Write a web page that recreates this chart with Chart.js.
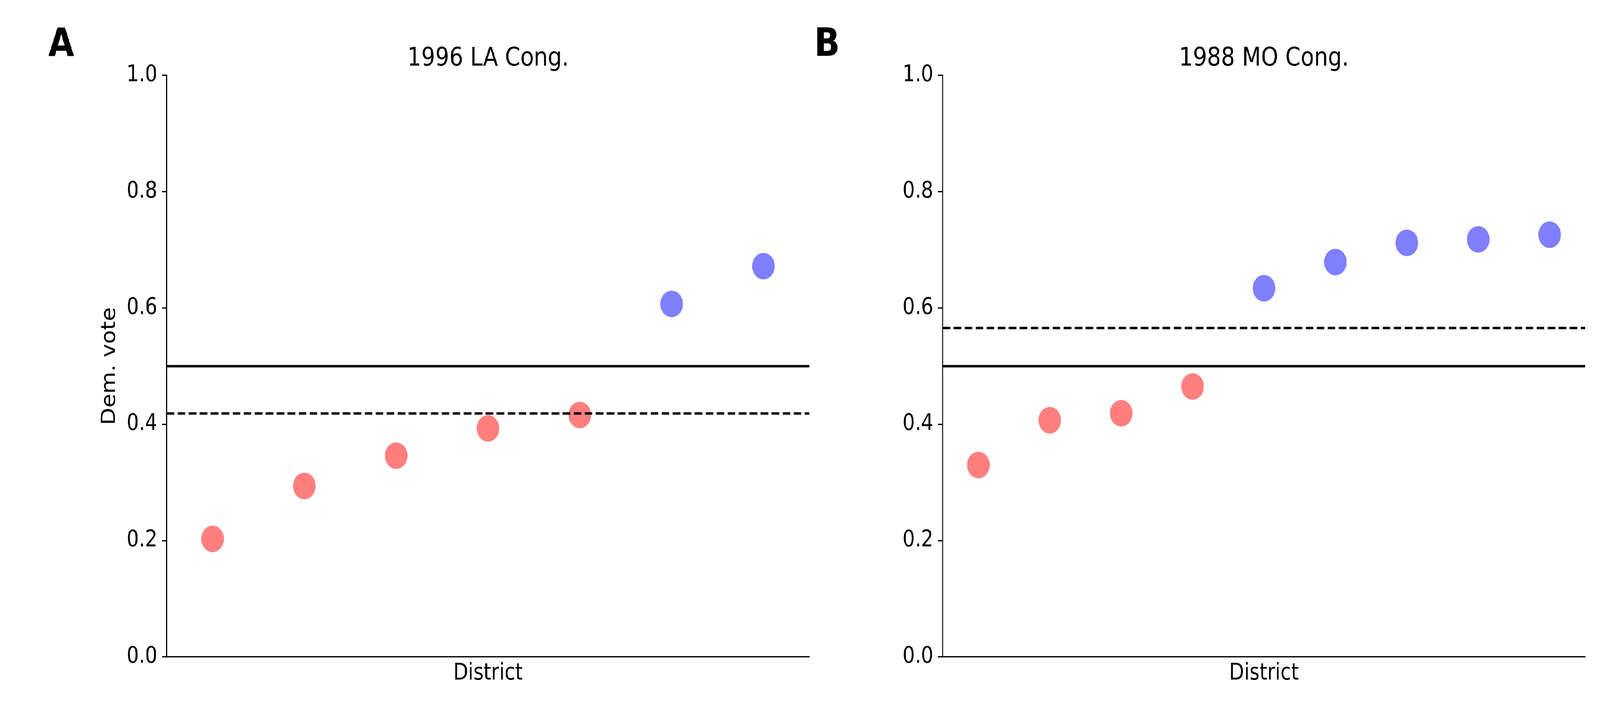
<!DOCTYPE html>
<html>
<head>
<meta charset="utf-8">
<script src="https://cdn.jsdelivr.net/npm/chart.js@4.4.1/dist/chart.umd.min.js"></script>
<style>
  html, body { margin: 0; padding: 0; background: #fff; overflow: hidden; }
  #figure { position: absolute; left: 0; top: 0; width: 4800px; height: 1800px; transform-origin: 0 0; }
  .panel { position: absolute; top: 0; height: 1800px; }
</style>
</head>
<body>
<div id="figure">
  <div class="panel" style="left:0;width:2500px"><canvas id="chartA" width="2500" height="1800"></canvas></div>
  <div class="panel" style="left:2400px;width:2400px"><canvas id="chartB" width="2400" height="1800"></canvas></div>
</div>
<script>
// Dem. vote share per district, sorted
const laTitle = "1996 LA Cong.";
const laVotes = [0.203, 0.294, 0.346, 0.393, 0.416, 0.607, 0.672];

const moTitle = "1988 MO Cong.";
const moVotes = [0.330, 0.407, 0.419, 0.465, 0.634, 0.679, 0.712, 0.718, 0.726];

const yTicks = [0, 0.2, 0.4, 0.6, 0.8, 1.0];
const halfLine = 0.5;

const RED = "rgba(255, 0, 0, 0.5)";
const BLUE = "rgba(0, 0, 255, 0.5)";
const FONT = "'DejaVu Sans', sans-serif";

// figure is laid out at 4800x1800; squeeze it into the real window width
const fig = document.getElementById("figure");
fig.style.transform = "scaleX(" + (window.innerWidth / 4800) + ")";

function mean(arr) {
  return arr.reduce((a, b) => a + b, 0) / arr.length;
}

// title + panel letter
const labelsPlugin = {
  id: "labels",
  afterDraw(chart, args, opts) {
    const ctx = chart.ctx;
    const area = chart.chartArea;
    ctx.save();
    ctx.fillStyle = "#000";
    ctx.textBaseline = "alphabetic";
    ctx.textAlign = "center";
    ctx.font = "66px " + FONT;
    ctx.fillText(opts.title, (area.left + area.right) / 2, 168);
    ctx.textAlign = "left";
    ctx.font = "bold 100px " + FONT;
    ctx.fillText(opts.letter, opts.letterX, 143);
    ctx.restore();
  }
};

function makeChart(id, votes, title, letter, letterX, axisWidth, padRight, yTitle) {
  const n = votes.length;
  const xMin = -0.5, xMax = n - 0.5;
  const m = mean(votes);
  const canvas = document.getElementById(id);
  canvas.style.width = canvas.width + "px";
  canvas.style.height = canvas.height + "px";
  return new Chart(canvas.getContext("2d"), {
    type: "scatter",
    data: {
      datasets: [
        {
          type: "line",
          data: [{ x: xMin, y: m }, { x: xMax, y: m }],
          borderColor: "#000",
          borderWidth: 6.25,
          borderDash: [23, 10],
          pointRadius: 0,
          order: 0
        },
        {
          type: "line",
          data: [{ x: xMin, y: halfLine }, { x: xMax, y: halfLine }],
          borderColor: "#000",
          borderWidth: 6.25,
          pointRadius: 0,
          order: 1
        },
        {
          data: votes.map((v, i) => ({ x: i, y: v })),
          backgroundColor: votes.map(v => (v < halfLine ? RED : BLUE)),
          borderWidth: 0,
          pointRadius: 34,
          pointHoverRadius: 34,
          order: 2
        }
      ]
    },
    options: {
      responsive: false,
      animation: false,
      devicePixelRatio: 1,
      events: [],
      layout: { padding: { left: 0, right: padRight, top: 193, bottom: 0 } },
      plugins: {
        legend: { display: false },
        tooltip: { enabled: false },
        labels: { title: title, letter: letter, letterX: letterX }
      },
      scales: {
        x: {
          type: "linear",
          min: xMin,
          max: xMax,
          ticks: { display: false },
          grid: { display: false },
          border: { display: true, color: "#000", width: 3.3 },
          title: {
            display: true,
            text: "District",
            color: "#000",
            font: { family: FONT, size: 58 },
            padding: { top: 0, bottom: 40 }
          },
          afterFit(scale) { scale.height = 118; }
        },
        y: {
          type: "linear",
          min: 0,
          max: 1,
          afterBuildTicks(scale) { scale.ticks = yTicks.map(v => ({ value: v })); },
          ticks: {
            color: "#000",
            font: { family: FONT, size: 58 },
            padding: 14,
            callback: v => Number(v).toFixed(1)
          },
          grid: {
            drawOnChartArea: false,
            drawTicks: true,
            tickLength: 14,
            tickWidth: 3.3,
            tickColor: "#000",
            color: "#000",
            lineWidth: 3.3
          },
          border: { display: true, color: "#000", width: 3.3 },
          title: {
            display: !!yTitle,
            text: yTitle || "",
            color: "#000",
            font: { family: FONT, size: 58 },
            padding: { top: 295, bottom: 0 }
          },
          afterFit(scale) { scale.width = axisWidth; }
        }
      }
    },
    plugins: [labelsPlugin]
  });
}

makeChart("chartA", laVotes, laTitle, "A", 145, 500, 72, "Dem. vote");
makeChart("chartB", moVotes, moTitle, "B", 43, 428, 44, null);
</script>
</body>
</html>
